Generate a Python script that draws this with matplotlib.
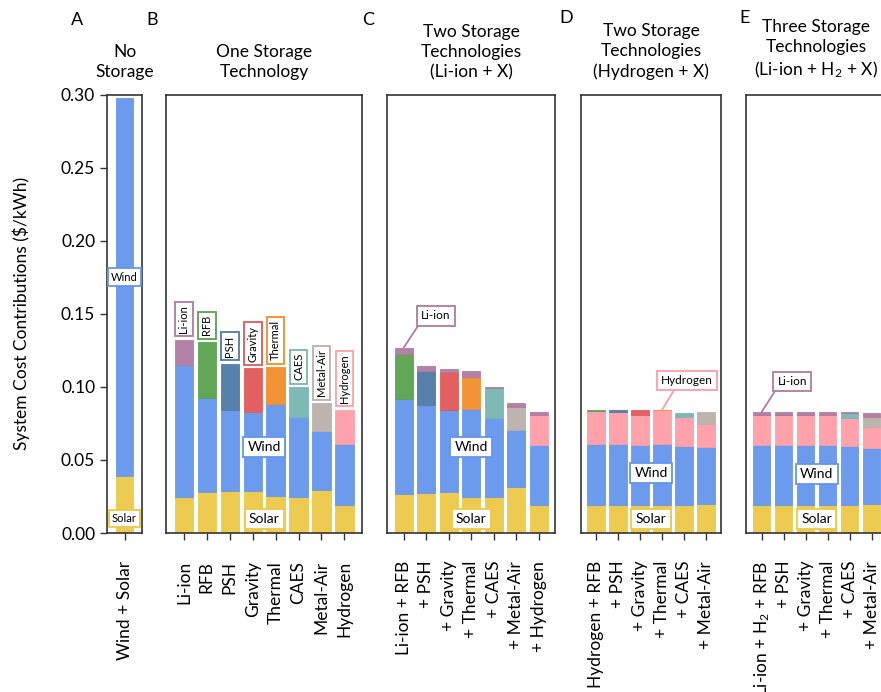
import matplotlib
matplotlib.use("Agg")
import matplotlib.pyplot as plt
import numpy as np

plt.rcParams['font.family'] = ['Lato', 'DejaVu Sans']
plt.rcParams['mathtext.default'] = 'regular'

# ---------------- data ----------------
# Panel A: No storage
a_labels = ["Wind + Solar"]
a_solar = [0.039]
a_wind = [0.2587]

# Panel B: one storage technology
b_labels = ["Li-ion", "RFB", "PSH", "Gravity", "Thermal", "CAES", "Metal-Air", "Hydrogen"]
b_solar = [0.0249, 0.0279, 0.0285, 0.0285, 0.0253, 0.0249, 0.0295, 0.0190]
b_wind = [0.0901, 0.0643, 0.0557, 0.0546, 0.0631, 0.0543, 0.0404, 0.0422]
b_storage = [0.0172, 0.0384, 0.0316, 0.0295, 0.0251, 0.0206, 0.0189, 0.0230]

# Panel C: Li-ion + X
c_labels = ["Li-ion + RFB", "+ PSH", "+ Gravity", "+ Thermal", "+ CAES", "+ Metal-Air", "+ Hydrogen"]
c_techs = ["RFB", "PSH", "Gravity", "Thermal", "CAES", "Metal-Air", "Hydrogen"]
c_solar = [0.0267, 0.0276, 0.0283, 0.0249, 0.0249, 0.0315, 0.0192]
c_wind = [0.0651, 0.0601, 0.0557, 0.0598, 0.0541, 0.0390, 0.0411]
c_x = [0.0308, 0.0230, 0.0263, 0.0224, 0.0201, 0.0156, 0.0203]
c_liion = [0.0043, 0.0037, 0.0020, 0.0041, 0.0007, 0.0027, 0.0025]

# Panel D: Hydrogen + X
d_labels = ["Hydrogen + RFB", "+ PSH", "+ Gravity", "+ Thermal", "+ CAES", "+ Metal-Air"]
d_techs = ["RFB", "PSH", "Gravity", "Thermal", "CAES", "Metal-Air"]
d_solar = [0.0192, 0.0192, 0.0190, 0.0190, 0.0190, 0.0199]
d_wind = [0.0420, 0.0420, 0.0415, 0.0422, 0.0408, 0.0392]
d_h2 = [0.0224, 0.0219, 0.0205, 0.0230, 0.0197, 0.0158]
d_x = [0.0006, 0.0011, 0.0030, 0.0000, 0.0029, 0.0080]

# Panel E: Li-ion + H2 + X
e_labels = ["Li-ion + H$_2$ + RFB", "+ PSH", "+ Gravity", "+ Thermal", "+ CAES", "+ Metal-Air"]
e_techs = ["RFB", "PSH", "Gravity", "Thermal", "CAES", "Metal-Air"]
e_solar = [0.0192, 0.0192, 0.0192, 0.0192, 0.0192, 0.0196]
e_wind = [0.0411, 0.0411, 0.0411, 0.0411, 0.0406, 0.0388]
e_h2 = [0.0205, 0.0205, 0.0205, 0.0205, 0.0190, 0.0142]
e_x = [0.0000, 0.0000, 0.0000, 0.0000, 0.0032, 0.0069]
e_liion = [0.0021, 0.0021, 0.0021, 0.0021, 0.0006, 0.0027]

colors = {
    "Solar": "#EDC948", "Wind": "#6495ED", "Li-ion": "#B07AA1", "RFB": "#59A14F",
    "PSH": "#4E79A7", "Gravity": "#E15759", "Thermal": "#F28E2B", "CAES": "#76B7B2",
    "Metal-Air": "#BAB0AC", "Hydrogen": "#FF9DA7",
}

# ---------------- figure ----------------
W, H = 881, 692
fig = plt.figure(figsize=(W / 100, H / 100), dpi=100)

y_top_px, y_bot_px = 94.7, 533.0
def add_ax(l, r):
    return fig.add_axes([l / W, (H - y_bot_px) / H, (r - l) / W, (y_bot_px - y_top_px) / H])

axA = add_ax(107, 142)
axB = add_ax(166, 362.3)
axC = add_ax(387.3, 555.3)
axD = add_ax(580.7, 721.3)
axE = add_ax(746.3, 887)

BW = 0.8
ALPHA = 0.95

def stack(ax, segs, cols):
    x = np.arange(len(segs[0]))
    bottom = np.zeros(len(x))
    for vals, c in zip(segs, cols):
        vals = np.array(vals)
        if isinstance(c, str):
            c = [c] * len(x)
        ax.bar(x, vals, BW, bottom=bottom, color=c, alpha=ALPHA,
               edgecolor=c, linewidth=0.6, zorder=2)
        bottom = bottom + vals
    return x, bottom

def style(ax, labels, xlim, show_y=False):
    ax.set_ylim(0, 0.30)
    ax.set_xlim(*xlim)
    ax.set_xticks(np.arange(len(labels)))
    ax.set_xticklabels(labels, rotation=90, fontsize=12.5)
    for s in ax.spines.values():
        s.set_color("#333333")
        s.set_linewidth(1.2)
    ax.tick_params(axis='x', length=5, width=1.0, color="#333333", pad=15)
    if show_y:
        ax.set_yticks(np.arange(0, 0.31, 0.05))
        ax.set_yticklabels([f"{v:.2f}" for v in np.arange(0, 0.31, 0.05)], fontsize=12.5)
        ax.tick_params(axis='y', length=5, width=1.0, color="#333333")
    else:
        ax.set_yticks([])

def wind_solar_labels(ax, wy, sy, fs=10):
    tr = ax.get_yaxis_transform()
    ax.text(0.5, wy, "Wind", transform=tr, ha='center', va='center',
            fontsize=fs, zorder=5, clip_on=False,
            bbox=dict(boxstyle='square,pad=0.3', fc='white', ec=colors["Wind"], lw=1.3))
    ax.text(0.5, sy, "Solar", transform=tr, ha='center', va='center',
            fontsize=fs, zorder=5, clip_on=False,
            bbox=dict(boxstyle='square,pad=0.3', fc='white', ec=colors["Solar"], lw=1.3))

# Panel A
stack(axA, [a_solar, a_wind], [colors["Solar"], colors["Wind"]])
style(axA, a_labels, (-0.8, 0.8), show_y=True)
axA.set_ylabel("System Cost Contributions ($/kWh)", fontsize=12.5, labelpad=22)
wind_solar_labels(axA, 0.175, 0.010, fs=8)

# Panel B
xB, topB = stack(axB, [b_solar, b_wind, b_storage],
                 [colors["Solar"], colors["Wind"], [colors[t] for t in b_labels]])
style(axB, b_labels, (-0.78, 7.78))
wind_solar_labels(axB, 0.059, 0.0094)
for x, t, lab in zip(xB, topB, b_labels):
    axB.annotate(lab, xy=(x, t), xytext=(0, 5), textcoords='offset points',
                 rotation=90, ha='center', va='bottom', fontsize=8, zorder=5,
                 bbox=dict(boxstyle='square,pad=0.3', fc='white', ec=colors[lab], lw=1.3))

# Panel C
xC, topC = stack(axC, [c_solar, c_wind, c_x, c_liion],
                 [colors["Solar"], colors["Wind"], [colors[t] for t in c_techs], colors["Li-ion"]])
style(axC, c_labels, (-0.73, 6.73))
wind_solar_labels(axC, 0.059, 0.0096)
axC.annotate("Li-ion", xy=(xC[0], topC[0]), xytext=(1.42, 0.1486), textcoords='data',
             ha='center', va='center', fontsize=8.5, zorder=6,
             bbox=dict(boxstyle='square,pad=0.35', fc='white', ec=colors["Li-ion"], lw=1.3),
             arrowprops=dict(arrowstyle='-', color=colors["Li-ion"], lw=1.3,
                             relpos=(0.0, 0.0), shrinkA=0, shrinkB=0))

# Panel D
xD, topD = stack(axD, [d_solar, d_wind, d_h2, d_x],
                 [colors["Solar"], colors["Wind"], colors["Hydrogen"], [colors[t] for t in d_techs]])
style(axD, d_labels, (-0.7, 5.7))
wind_solar_labels(axD, 0.0409, 0.0096)
axD.annotate("Hydrogen", xy=(xD[3], topD[3]), xytext=(4.13, 0.1043), textcoords='data',
             ha='center', va='center', fontsize=8.5, zorder=6,
             bbox=dict(boxstyle='square,pad=0.35', fc='white', ec=colors["Hydrogen"], lw=1.3),
             arrowprops=dict(arrowstyle='-', color=colors["Hydrogen"], lw=1.3,
                             relpos=(0.3, 0.0), shrinkA=0, shrinkB=0))

# Panel E
xE, topE = stack(axE, [e_solar, e_wind, e_h2, e_x, e_liion],
                 [colors["Solar"], colors["Wind"], colors["Hydrogen"],
                  [colors[t] for t in e_techs], colors["Li-ion"]])
style(axE, e_labels, (-0.7, 5.7))
wind_solar_labels(axE, 0.0406, 0.0094)
axE.annotate("Li-ion", xy=(xE[0], topE[0]), xytext=(1.39, 0.1036), textcoords='data',
             ha='center', va='center', fontsize=8.5, zorder=6,
             bbox=dict(boxstyle='square,pad=0.35', fc='white', ec=colors["Li-ion"], lw=1.3),
             arrowprops=dict(arrowstyle='-', color=colors["Li-ion"], lw=1.3,
                             relpos=(0.0, 0.0), shrinkA=0, shrinkB=0))

# Titles
titles = [(124.5, "No\nStorage"), (264.2, "One Storage\nTechnology"),
          (471.3, "Two Storage\nTechnologies\n(Li-ion + X)"),
          (651.0, "Two Storage\nTechnologies\n(Hydrogen + X)"),
          (816.0, "Three Storage\nTechnologies\n(Li-ion + H$_2$ + X)")]
for cx, t in titles:
    fig.text(cx / W, (H - 80) / H, t, ha='center', va='bottom',
             fontsize=12.5, linespacing=1.3)

# Panel letters
for lab, px, py in [("A", 77, 20), ("B", 152, 20), ("C", 368, 20), ("D", 566, 18), ("E", 745, 18)]:
    fig.text(px / W, (H - py) / H, lab, ha='center', va='center', fontsize=13)

fig.savefig("out.png", dpi=100)
